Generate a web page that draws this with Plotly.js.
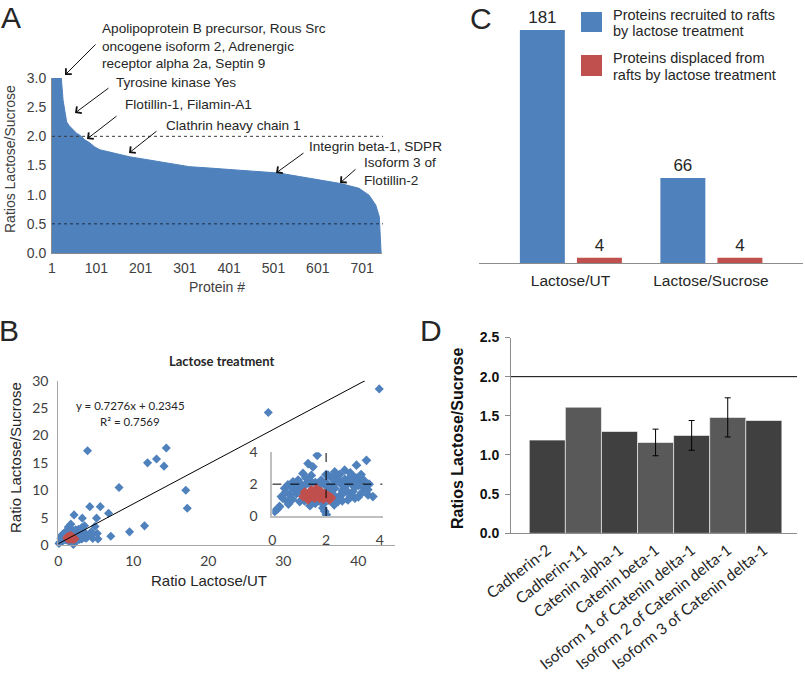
<!DOCTYPE html>
<html>
<head>
<meta charset="utf-8">
<script src="https://cdn.plot.ly/plotly-3.0.1.min.js"></script>
<style>html,body{margin:0;padding:0;background:#fff}</style>
</head>
<body>
<div id="plot1" style="width:805px;height:679px"></div>
<script>
// Panel A: proteins sorted by ratio
const proteinIdx = [1, 22, 26, 30, 34, 40, 49, 57, 64, 75, 86, 97, 109, 130, 150, 176, 200, 230, 260, 289, 311, 350, 400, 450, 514, 560, 604, 653, 694, 717, 732, 740, 742, 744];
const ratioLS = [3.0, 3.0, 2.62, 2.42, 2.25, 2.18, 2.11, 2.05, 2.02, 1.94, 1.89, 1.82, 1.77, 1.73, 1.69, 1.65, 1.62, 1.58, 1.54, 1.51, 1.48, 1.46, 1.43, 1.40, 1.37, 1.31, 1.25, 1.19, 1.11, 0.99, 0.82, 0.62, 0.30, 0.0];
const proteinTicks = [1, 101, 201, 301, 401, 501, 601, 701];

// Panel B: Lactose/UT vs Lactose/Sucrose
const blueX = [42.8, 28.0, 3.9, 14.4, 13.1, 11.9, 14.1, 8.1, 17.0, 17.2, 4.2, 5.6, 6.7, 2.1, 5.1, 4.9, 11.5, 9.5, 7.0, 5.3, 4.4, 5.2, 3.2, 4.6, 4.5,
    1.67, 3.50, 3.13, 1.33, 1.51, 1.14, 0.96, 0.77, 2.69, 2.32, 2.07, 2.94, 3.25, 1.82, 1.45, 2.44, 2.81, 3.43, 3.56, 3.74, 3.31,
    0.46, 0.34, 0.65, 0.83, 1.08, 0.58, 1.02, 1.45, 1.88, 2.01, 0.09, 0.27, 2.32, 2.57, 2.81, 2.44, 3.07, 2.19, 2.69, 3.07, 1.70, 1.27, 1.95, 0.58,
    0.50, 0.70, 0.90, 0.40, 0.75, 0.90, 1.10, 0.60, 0.20, 1.20, 1.40, 1.60, 1.80, 2.00, 1.00,
    2.10, 2.20, 2.30, 2.40, 2.50, 2.60, 2.70, 2.80, 2.90, 3.00, 3.10, 3.20, 2.20, 2.50, 2.90, 3.30, 2.35, 2.60, 2.90, 3.00,
    3.20, 2.10, 2.30, 2.55, 1.60, 1.40, 1.75, 1.20, 3.40, 3.60, 3.55, 2.00, 1.90, 1.95, 1.25, 1.45, 0.85, 2.65, 3.05];
const blueY = [28.5, 24.2, 17.2, 17.7, 15.7, 15.0, 14.4, 10.5, 10.0, 6.7, 7.0, 7.0, 5.8, 5.5, 4.9, 3.4, 3.5, 2.4, 1.6, 1.1, 2.4, 2.1, 4.9, 1.2, 1.8,
    3.81, 3.50, 3.19, 3.29, 3.09, 2.67, 2.26, 2.15, 2.88, 2.77, 2.57, 2.57, 2.15, 2.26, 2.15, 2.26, 2.05, 1.74, 1.32, 1.22, 1.43,
    1.74, 1.22, 1.33, 1.64, 1.74, 0.91, 0.91, 0.81, 0.50, 0.08, 0.29, 0.60, 1.74, 1.32, 1.01, 0.91, 1.12, 1.12, 1.74, 1.84, 1.95, 2.05, 1.95, 1.95,
    1.50, 1.80, 1.90, 1.10, 1.05, 1.40, 1.50, 0.75, 0.45, 1.90, 2.00, 2.10, 2.00, 2.10, 2.10,
    1.80, 1.50, 2.00, 2.40, 2.10, 1.60, 2.30, 1.50, 2.40, 1.90, 2.40, 1.90, 2.40, 2.60, 2.70, 2.60, 1.20, 0.95, 1.20, 1.55,
    1.20, 1.00, 0.70, 1.35, 0.80, 0.65, 0.95, 0.95, 2.25, 2.00, 1.65, 2.60, 0.75, 0.30, 2.40, 2.55, 2.00, 1.85, 2.15];
const redX = [1.27, 1.45, 1.64, 1.82, 1.33, 1.57, 1.88, 2.13, 2.13, 1.70, 1.14, 1.20, 1.40, 1.60, 1.95, 2.20, 1.50, 1.75, 1.90, 2.05];
const redY = [1.33, 1.64, 1.74, 1.53, 1.02, 1.12, 1.22, 1.22, 1.02, 1.33, 1.22, 1.50, 1.40, 1.45, 1.40, 1.15, 1.30, 1.10, 1.05, 1.30];
const trendX = [0, 40.9];
const trendY = [0.23, 30];

// Panel C: number of proteins
const groups = ['Lactose/UT', 'Lactose/Sucrose'];
const recruited = [181, 66];
const displaced = [4, 4];

// Panel D: adhesion proteins
const adhesion = ['Cadherin-2', 'Cadherin-11', 'Catenin alpha-1', 'Catenin beta-1',
    'Isoform 1 of Catenin delta-1', 'Isoform 2 of Catenin delta-1', 'Isoform 3 of Catenin delta-1'];
const adhesionRatio = [1.19, 1.61, 1.30, 1.16, 1.25, 1.48, 1.44];
const adhesionErr = [null, null, null, 0.17, 0.19, 0.25, null];

const W = 805, H = 679;
const px = v => v / W;
const py = v => 1 - v / H;

const blue = '#4f81bd';
const red = '#c0504d';
const txt = '#262626';
const arial = 'Liberation Sans, Arial, sans-serif';
const calibri = 'Lato, sans-serif';

// only the bars that carry an error bar
const errIdx = adhesionErr.map((e, i) => (e === null ? -1 : i)).filter(i => i >= 0);

const data = [
    {
        x: proteinIdx, y: ratioLS, type: 'scatter', mode: 'lines',
        fill: 'tozeroy', fillcolor: blue, line: {color: blue, width: 1},
        xaxis: 'x', yaxis: 'y',
    },
    {
        x: groups, y: recruited, type: 'bar', width: 0.32, offset: -0.36,
        marker: {color: blue}, text: recruited.map(String), textposition: 'outside',
        textfont: {size: 17, color: txt, family: arial}, cliponaxis: false,
        xaxis: 'x2', yaxis: 'y2',
    },
    {
        x: groups, y: displaced, type: 'bar', width: 0.32, offset: 0.046,
        marker: {color: red}, text: displaced.map(String), textposition: 'outside',
        textfont: {size: 17, color: txt, family: arial}, cliponaxis: false,
        xaxis: 'x2', yaxis: 'y2',
    },
    {
        x: blueX, y: blueY, type: 'scatter', mode: 'markers',
        marker: {symbol: 'diamond', size: 7, color: blue}, cliponaxis: false,
        xaxis: 'x3', yaxis: 'y3',
    },
    {
        x: redX, y: redY, type: 'scatter', mode: 'markers',
        marker: {symbol: 'diamond', size: 7, color: red}, cliponaxis: false,
        xaxis: 'x3', yaxis: 'y3',
    },
    {
        x: trendX, y: trendY, type: 'scatter', mode: 'lines',
        line: {color: '#000', width: 1}, xaxis: 'x3', yaxis: 'y3',
    },
    {
        x: blueX, y: blueY, type: 'scatter', mode: 'markers',
        marker: {symbol: 'diamond', size: 7.5, color: blue},
        xaxis: 'x4', yaxis: 'y4',
    },
    {
        x: redX, y: redY, type: 'scatter', mode: 'markers',
        marker: {symbol: 'diamond', size: 7.5, color: red},
        xaxis: 'x4', yaxis: 'y4',
    },
    {
        x: adhesion, y: adhesionRatio, type: 'bar', width: 1,
        marker: {color: ['#404040', '#595959', '#404040', '#595959', '#404040', '#595959', '#404040'],
            line: {color: '#ffffff', width: 0.6}},
        xaxis: 'x5', yaxis: 'y5',
    },
    {
        x: errIdx.map(i => adhesion[i]), y: errIdx.map(i => adhesionRatio[i]),
        type: 'scatter', mode: 'markers', marker: {size: 1, opacity: 0},
        error_y: {type: 'data', array: errIdx.map(i => adhesionErr[i]), visible: true, color: '#000', thickness: 1, width: 3},
        xaxis: 'x5', yaxis: 'y5',
    },
];

const grayAxis = {showgrid: false, zeroline: false, showline: true, linecolor: '#8c8c8c', linewidth: 1, ticks: ''};

function arrow(hx, hy, tx, ty) {
    return {
        xref: 'paper', yref: 'paper', x: px(hx), y: py(hy), ax: tx - hx, ay: ty - hy,
        text: '', showarrow: true, arrowhead: 4, arrowsize: 1.6, arrowwidth: 1, arrowcolor: '#111',
    };
}
function label(x, y, text, opts) {
    return Object.assign({
        xref: 'paper', yref: 'paper', x: px(x), y: py(y), text: text, showarrow: false,
        xanchor: 'left', yanchor: 'middle', align: 'left',
        font: {family: arial, size: 13.6, color: txt},
    }, opts || {});
}

const annotations = [
    // panel letters
    label(11, 17, 'A', {xanchor: 'center', font: {family: arial, size: 30, color: txt}}),
    label(481, 18, 'C', {xanchor: 'center', font: {family: arial, size: 30, color: txt}}),
    label(9, 330, 'B', {xanchor: 'center', font: {family: arial, size: 30, color: txt}}),
    label(431, 330, 'D', {xanchor: 'center', font: {family: arial, size: 30, color: txt}}),

    // panel A labels
    label(100, 46, 'Apolipoprotein B precursor, Rous Src<br>oncogene isoform 2, Adrenergic<br>receptor alpha 2a, Septin 9'),
    label(114, 82, 'Tyrosine kinase Yes'),
    label(123, 104, 'Flotillin-1, Filamin-A1'),
    label(164, 125, 'Clathrin heavy chain 1'),
    label(307, 146, 'Integrin beta-1, SDPR'),
    label(362, 171, 'Isoform 3 of<br>Flotillin-2'),
    arrow(65, 75, 97, 43),
    arrow(75, 113, 110, 87),
    arrow(87, 139, 118, 115),
    arrow(129, 153, 158, 130),
    arrow(276, 173, 305, 152),
    arrow(340, 183, 357, 168),
    label(10, 159, 'Ratios Lactose/Sucrose', {xanchor: 'center', textangle: -90, font: {family: arial, size: 14, color: '#404040'}}),
    label(217, 287, 'Protein #', {xanchor: 'center', font: {family: arial, size: 14, color: '#404040'}}),

    // panel C legend
    label(611, 15, 'Proteins recruited to rafts', {font: {family: arial, size: 14.5, color: txt}}),
    label(611, 31, 'by lactose treatment', {font: {family: arial, size: 14.5, color: txt}}),
    label(611, 58, 'Proteins displaced from', {font: {family: arial, size: 14.5, color: txt}}),
    label(611, 75, 'rafts by lactose treatment', {font: {family: arial, size: 14.5, color: txt}}),

    // panel B
    label(222, 361, '<b>Lactose treatment</b>', {xanchor: 'center', font: {family: calibri, size: 13, color: txt}}),
    label(130, 405, 'y = 0.7276x + 0.2345', {xanchor: 'center', font: {family: calibri, size: 11.5, color: txt}}),
    label(130, 421, 'R² = 0.7569', {xanchor: 'center', font: {family: calibri, size: 11.5, color: txt}}),
    label(15, 458, 'Ratio Lactose/Sucrose', {xanchor: 'center', textangle: -90, font: {family: arial, size: 15, color: txt}}),
    label(209, 580, 'Ratio Lactose/UT', {xanchor: 'center', font: {family: arial, size: 15, color: txt}}),

    // panel D
    label(457, 438, '<b>Ratios Lactose/Sucrose</b>', {xanchor: 'center', textangle: -90, font: {family: arial, size: 16, color: '#111'}}),
];

const shapes = [
    {type: 'line', xref: 'x domain', yref: 'y', x0: 0, x1: 1.003, y0: 2, y1: 2, line: {color: '#3a3a3a', width: 1, dash: 'dot'}},
    {type: 'line', xref: 'x domain', yref: 'y', x0: 0, x1: 1.003, y0: 0.5, y1: 0.5, line: {color: '#1f2f4a', width: 1, dash: 'dot'}},
    {type: 'rect', xref: 'paper', yref: 'paper', x0: px(581), x1: px(602), y0: py(32), y1: py(12), fillcolor: blue, line: {width: 0}},
    {type: 'rect', xref: 'paper', yref: 'paper', x0: px(581), x1: px(602), y0: py(76), y1: py(55), fillcolor: red, line: {width: 0}},
    {type: 'line', xref: 'x4', yref: 'y4', x0: 0, x1: 4.1, y0: 2, y1: 2, line: {color: '#000', width: 1, dash: 'dash'}},
    {type: 'line', xref: 'x4', yref: 'y4', x0: 2, x1: 2, y0: 0, y1: 4, line: {color: '#000', width: 1, dash: 'dash'}},
    {type: 'line', xref: 'x5 domain', yref: 'y5', x0: 0, x1: 1, y0: 2, y1: 2, line: {color: '#000', width: 1}},
];

const layout = {
    width: W, height: H,
    margin: {l: 0, r: 0, t: 0, b: 0},
    paper_bgcolor: '#fff', plot_bgcolor: 'rgba(0,0,0,0)',
    font: {family: arial, size: 13, color: txt},
    showlegend: false,
    hovermode: false,

    xaxis: Object.assign({}, grayAxis, {
        domain: [px(52), px(382)], range: [1, 746], tickvals: proteinTicks,
        tickfont: {family: arial, size: 14, color: '#404040'}, anchor: 'y', ticklabelstandoff: 2,
    }),
    yaxis: Object.assign({}, grayAxis, {
        domain: [py(253), py(78)], range: [0, 3], dtick: 0.5, tickformat: '.1f',
        tickfont: {family: arial, size: 14, color: '#404040'}, anchor: 'x', ticklabelstandoff: 2,
    }),

    xaxis2: Object.assign({}, grayAxis, {
        domain: [px(479), px(803)], range: [-0.651, 1.655], type: 'category',
        tickfont: {family: arial, size: 15.5, color: txt}, anchor: 'y2', ticklabelstandoff: 3,
    }),
    yaxis2: {
        domain: [py(263), py(5.6)], range: [0, 200], visible: false, anchor: 'x2',
    },

    xaxis3: Object.assign({}, grayAxis, {
        domain: [px(58.3), px(395)], range: [0, 44.9], dtick: 10, linecolor: '#a6a6a6',
        tickfont: {family: calibri, size: 14, color: '#404040'}, anchor: 'y3', ticklabelstandoff: 3,
    }),
    yaxis3: Object.assign({}, grayAxis, {
        domain: [py(545), py(380.7)], range: [0, 30], dtick: 5, linecolor: '#a6a6a6',
        tickfont: {family: calibri, size: 14, color: '#404040'}, anchor: 'x3', ticklabelstandoff: 6,
    }),

    xaxis4: Object.assign({}, grayAxis, {
        domain: [px(272.3), px(382.6)], range: [0, 4.1], tickvals: [0, 2, 4], linecolor: '#bfbfbf', linewidth: 2,
        tickfont: {family: calibri, size: 14, color: '#404040'}, anchor: 'y4', ticklabelstandoff: 10,
    }),
    yaxis4: Object.assign({}, grayAxis, {
        domain: [py(516), py(452.3)], range: [0, 4], tickvals: [0, 2, 4], linecolor: '#bfbfbf', linewidth: 2,
        tickfont: {family: calibri, size: 14, color: '#404040'}, anchor: 'x4', ticklabelstandoff: 10,
    }),

    xaxis5: Object.assign({}, grayAxis, {
        domain: [px(511), px(797)], range: [-1.007, 6.92], type: 'category', tickangle: -38,
        tickfont: {family: calibri, size: 15.5, color: txt}, anchor: 'y5', ticklabelstandoff: 1,
    }),
    yaxis5: Object.assign({}, grayAxis, {
        domain: [py(533.3), py(337.5)], range: [0, 2.5], dtick: 0.5, tickformat: '.1f',
        ticks: 'outside', ticklen: 5, tickcolor: '#8c8c8c',
        tickfont: {family: arial, size: 14, color: '#111', weight: 'bold'}, anchor: 'x5', ticklabelstandoff: 3,
    }),

    annotations: annotations,
    shapes: shapes,
};

Plotly.newPlot('plot1', data, layout, {staticPlot: true});
</script>
</body>
</html>
